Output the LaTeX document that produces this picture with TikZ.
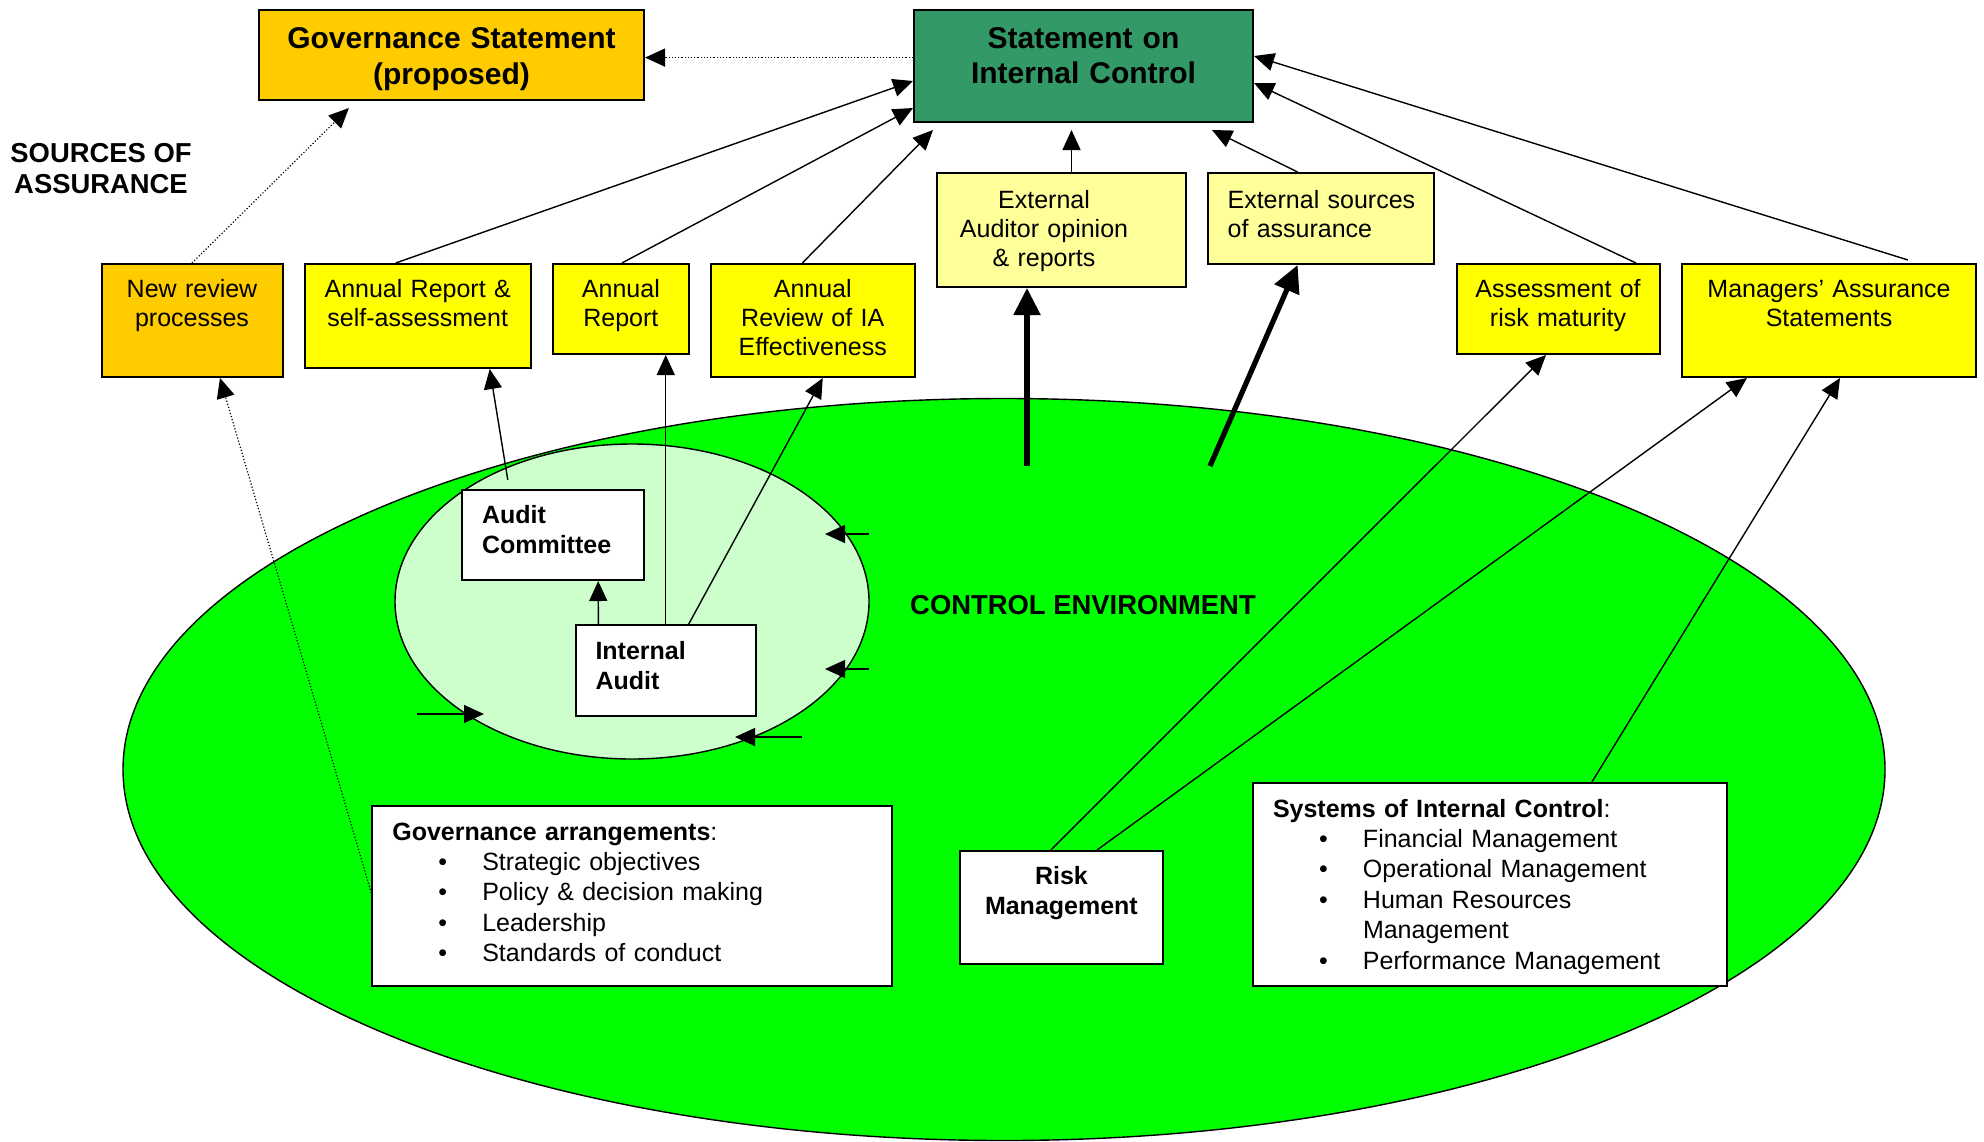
\documentclass[tikz,border=0pt]{standalone}
\usepackage{fontspec}
\setmainfont{Liberation Sans}
\usepackage{tikz}
\usepackage{xcolor}
\usetikzlibrary{
    arrows.meta,
    calc,
    positioning
}
\definecolor{govorange}{HTML}{FFCC00}
\definecolor{sicgreen}{HTML}{339966}
\definecolor{srcyellow}{HTML}{FFFF00}
\definecolor{paleyellow}{HTML}{FFFF99}
\definecolor{envgreen}{HTML}{00FF00}
\definecolor{ringgreen}{HTML}{CCFFCC}
\newcommand{\listrow}[1]{\makebox[45pt][l]{\hspace{23pt}\textbullet}#1}

\begin{document}
\begin{tikzpicture}[x=0.5pt, y=-0.5pt, >={Triangle[length=10pt, width=9pt]},
    box/.style={draw, line width=1pt, inner xsep=0pt, inner ysep=0pt, anchor=north, align=center, text height=16.5pt, font=\fontsize{12.5}{14.5}\selectfont},
    wbox/.style={box, fill=white, align=left, inner xsep=10pt, font=\fontsize{12.5}{15.2}\selectfont}]
    \useasboundingbox (0, 0) rectangle (1984, 1141);
    \filldraw[fill=envgreen, line width=0.7pt] (1004, 769.5) ellipse [x radius=881, y radius=371];
    \filldraw[fill=ringgreen, line width=0.7pt] (632, 601.5) ellipse [x radius=237, y radius=157.5];
    \node[box, fill=govorange, text width=192.5pt, text height=19pt, text depth=26pt, font=\bfseries\fontsize{15}{18}\selectfont] (gov) at (451.5, 9) {Governance Statement\\(proposed)};
    \node[box, fill=sicgreen, text width=169.5pt, text height=19pt, text depth=37pt, font=\bfseries\fontsize{15}{17.5}\selectfont] (sic) at (1083.5, 9) {Statement on\\Internal Control};
    \node[align=center, font=\bfseries\fontsize{13.7}{15.5}\selectfont] (srclbl) at (101, 168.5) {SOURCES OF\\ASSURANCE};
    \node[box, fill=govorange, text width=90.5pt, text depth=40pt] (newrev) at (192, 263) {New review\\processes};
    \node[box, fill=srcyellow, text width=113pt, text depth=35.5pt] (annrepsa) at (417.7, 263) {Annual Report \&\\self-assessment};
    \node[box, fill=srcyellow, text width=68pt, text depth=28.5pt] (annrep) at (620.9, 263) {Annual\\Report};
    \node[box, fill=srcyellow, text width=101.75pt, text depth=40pt] (annrev) at (812.75, 263) {Annual\\Review of IA\\Effectiveness};
    \node[box, fill=paleyellow, text width=124.5pt, text height=17.5pt, text depth=39.5pt] (extaud) at (1061, 172) {\mbox{External\hspace{17pt}}\\\mbox{Auditor opinion\hspace{17pt}}\\\mbox{\& reports\hspace{17pt}}};
    \node[box, fill=paleyellow, text width=113pt, text height=17.5pt, text depth=28pt, align=left] (extsrc) at (1320.6, 172) {\hspace*{10pt}External sources\\\hspace*{10pt}of assurance};
    \node[box, fill=srcyellow, text width=101.5pt, text depth=28.5pt] (assess) at (1558, 263) {Assessment of\\risk maturity};
    \node[box, fill=srcyellow, text width=147.25pt, text depth=40pt] (mgrs) at (1829, 263) {Managers’ Assurance\\Statements};
    \node[wbox, text width=71pt, text depth=28.5pt, font=\bfseries\fontsize{12.5}{15}\selectfont] (ac) at (553, 489) {Audit\\Committee};
    \node[wbox, text width=70.25pt, text height=17pt, text depth=28.5pt, font=\bfseries\fontsize{12.5}{15}\selectfont] (ia) at (665.75, 624) {Internal\\Audit};
    \node[font=\bfseries\fontsize{13.7}{16}\selectfont] (ctrlenv) at (1083, 605) {CONTROL ENVIRONMENT};
    \node[wbox, text width=239.6pt, text height=17pt, text depth=73pt] (gar) at (631.9, 805) {\textbf{Governance arrangements}:\\\listrow{Strategic objectives}\\\listrow{Policy \& decision making}\\\listrow{Leadership}\\\listrow{Standards of conduct}};
    \node[box, fill=white, text width=101.35pt, text depth=40pt, font=\bfseries\fontsize{12.5}{15}\selectfont] (rm) at (1061.4, 850) {Risk\\Management};
    \node[wbox, text width=216.9pt, text height=17pt, text depth=84.5pt] (sys) at (1489.9, 782) {\textbf{Systems of Internal Control}:\\\listrow{Financial Management}\\\listrow{Operational Management}\\\listrow{Human Resources}\\\hspace*{45pt}Management\\\listrow{Performance Management}};
    \coordinate (audfeed) at (1027, 466);
    \coordinate (srcfeed) at (1210, 466);
    \coordinate (ringtail1) at (869, 534);
    \coordinate (ringtip1) at (825, 534);
    \coordinate (ringtail2) at (869, 669);
    \coordinate (ringtip2) at (825, 669);
    \coordinate (ringtail3) at (802, 737);
    \coordinate (ringtip3) at (735, 737);
    \coordinate (ringtail4) at (417, 714);
    \coordinate (ringtip4) at (484, 714);
    \draw[line width=0.6pt]
    ([yshift=4.2pt]sic.west) edge[->, densely dotted] ([yshift=-1.3pt]gov.east)
    (newrev.north) edge[->, densely dotted] ([xshift=-51.3pt, yshift=-3.5pt]gov.south)
    ([yshift=1.5pt]gar.west) edge[->, densely dotted] ([xshift=14pt]newrev.south);
    \draw[line width=0.7pt]
    ([xshift=-11pt]annrepsa.north) edge[->] ([yshift=-7.5pt]sic.west)
    ([xshift=0.5pt]annrep.north) edge[->] ([yshift=-21pt]sic.west)
    ([xshift=-5.2pt]annrev.north) edge[->] ([xshift=10pt, yshift=-3.5pt]sic.south west)
    ([xshift=5.25pt]extaud.north) edge[->] ([xshift=-6pt, yshift=-3.5pt]sic.south)
    ([xshift=-11.5pt]extsrc.north) edge[->] ([xshift=-21pt, yshift=-3.5pt]sic.south east)
    ([xshift=39pt]assess.north) edge[->] ([yshift=-8.5pt]sic.east)
    ([xshift=39.5pt, yshift=1.5pt]mgrs.north) edge[->] ([yshift=5pt]sic.east)
    ([xshift=-5.3pt]rm.north) edge[->] ([xshift=-6pt]assess.south)
    ([xshift=17.8pt]rm.north) edge[->] ([xshift=-41pt]mgrs.south)
    ([xshift=51pt]sys.north) edge[->] ([xshift=5.5pt]mgrs.south)
    ([xshift=-33.7pt]ia.north) edge[->] ([xshift=22.6pt]ac.south)
    (ia.north) edge[->] (ia.north |- annrep.south)
    ([xshift=11.5pt]ia.north) edge[->] ([xshift=5pt]annrev.south)
    ([xshift=-22.6pt, yshift=4.5pt]ac.north) edge[->] ([xshift=36pt]annrepsa.south)
    (ringtail1) edge[->] (ringtip1)
    (ringtail2) edge[->] (ringtip2)
    (ringtail3) edge[->] (ringtip3)
    (ringtail4) edge[->] (ringtip4);
    \draw[line width=2.6pt]
    (audfeed) edge[-{Triangle[length=13.5pt, width=13pt]}] (audfeed |- extaud.south)
    (srcfeed) edge[-{Triangle[length=13.5pt, width=13pt]}] ([xshift=-11.5pt]extsrc.south);
\end{tikzpicture}
\end{document}
